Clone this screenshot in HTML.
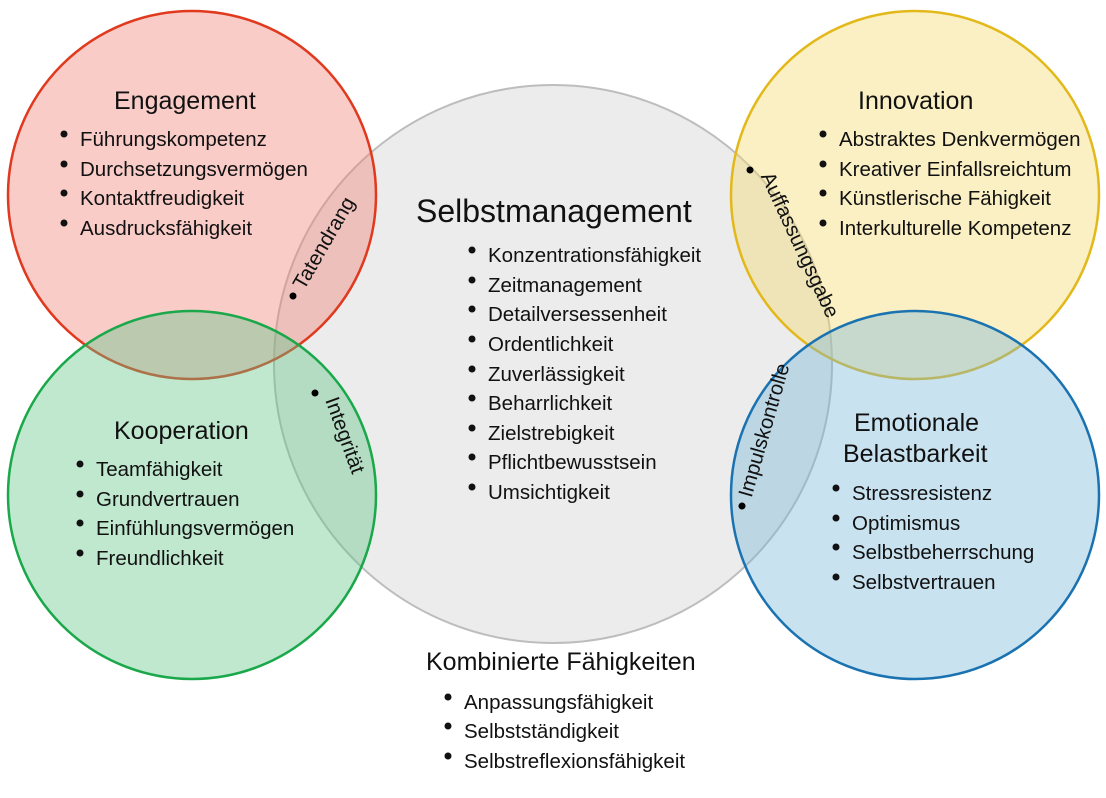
<!DOCTYPE html>
<html><head><meta charset="utf-8"><style>
html,body{margin:0;padding:0;background:#fff}
svg text{font-family:"Liberation Sans",Arial,sans-serif;fill:#111}
.t{font-size:25px}
.i{font-size:20.5px}
</style></head><body>
<svg width="1106" height="793" viewBox="0 0 1106 793" xmlns="http://www.w3.org/2000/svg">
<rect width="1106" height="793" fill="#fff"/>
<circle cx="553" cy="364" r="279" fill="rgb(207,207,207)" fill-opacity="0.4" stroke="#bdbdbd" stroke-width="2"/>
<circle cx="192" cy="195" r="184" fill="rgb(240,127,117)" fill-opacity="0.4" stroke="#e0391e" stroke-width="2.5"/>
<circle cx="192" cy="495" r="184" fill="rgb(95,197,135)" fill-opacity="0.4" stroke="#1aa84a" stroke-width="2.5"/>
<circle cx="915" cy="195" r="184" fill="rgb(245,217,105)" fill-opacity="0.4" stroke="#e2b81a" stroke-width="2.5"/>
<circle cx="915" cy="495" r="184" fill="rgb(120,182,217)" fill-opacity="0.4" stroke="#1a73b0" stroke-width="2.5"/>

<g class="t">
<text x="114" y="109">Engagement</text>
<text x="114" y="439">Kooperation</text>
<text x="858" y="109">Innovation</text>
<text x="854" y="431">Emotionale</text>
<text x="843" y="462">Belastbarkeit</text>
<text x="426" y="670">Kombinierte Fähigkeiten</text>
<text x="416" y="222" style="font-size:32px">Selbstmanagement</text>
</g>

<g class="i">
<text x="80" y="146">Führungskompetenz</text>
<text x="80" y="176">Durchsetzungsvermögen</text>
<text x="80" y="205">Kontaktfreudigkeit</text>
<text x="80" y="235">Ausdrucksfähigkeit</text>
<text x="96" y="476">Teamfähigkeit</text>
<text x="96" y="506">Grundvertrauen</text>
<text x="96" y="535">Einfühlungsvermögen</text>
<text x="96" y="565">Freundlichkeit</text>
<text x="839" y="146">Abstraktes Denkvermögen</text>
<text x="839" y="176">Kreativer Einfallsreichtum</text>
<text x="839" y="205">Künstlerische Fähigkeit</text>
<text x="839" y="235">Interkulturelle Kompetenz</text>
<text x="852" y="500">Stressresistenz</text>
<text x="852" y="530">Optimismus</text>
<text x="852" y="559">Selbstbeherrschung</text>
<text x="852" y="589">Selbstvertrauen</text>
<text x="488" y="262">Konzentrationsfähigkeit</text>
<text x="488" y="292">Zeitmanagement</text>
<text x="488" y="321">Detailversessenheit</text>
<text x="488" y="351">Ordentlichkeit</text>
<text x="488" y="381">Zuverlässigkeit</text>
<text x="488" y="410">Beharrlichkeit</text>
<text x="488" y="440">Zielstrebigkeit</text>
<text x="488" y="469">Pflichtbewusstsein</text>
<text x="488" y="499">Umsichtigkeit</text>
<text x="464" y="709">Anpassungsfähigkeit</text>
<text x="464" y="738">Selbstständigkeit</text>
<text x="464" y="768">Selbstreflexionsfähigkeit</text>
</g>

<g fill="#111">
<circle cx="64" cy="134" r="3.5"/><circle cx="64" cy="164" r="3.5"/><circle cx="64" cy="193" r="3.5"/><circle cx="64" cy="223" r="3.5"/>
<circle cx="80" cy="464" r="3.5"/><circle cx="80" cy="494" r="3.5"/><circle cx="80" cy="523" r="3.5"/><circle cx="80" cy="553" r="3.5"/>
<circle cx="823" cy="134" r="3.5"/><circle cx="823" cy="164" r="3.5"/><circle cx="823" cy="193" r="3.5"/><circle cx="823" cy="223" r="3.5"/>
<circle cx="836" cy="488" r="3.5"/><circle cx="836" cy="518" r="3.5"/><circle cx="836" cy="547" r="3.5"/><circle cx="836" cy="577" r="3.5"/>
<circle cx="472" cy="250" r="3.5"/><circle cx="472" cy="280" r="3.5"/><circle cx="472" cy="309" r="3.5"/><circle cx="472" cy="339" r="3.5"/><circle cx="472" cy="369" r="3.5"/><circle cx="472" cy="398" r="3.5"/><circle cx="472" cy="428" r="3.5"/><circle cx="472" cy="457" r="3.5"/><circle cx="472" cy="487" r="3.5"/>
<circle cx="448" cy="697" r="3.5"/><circle cx="448" cy="726" r="3.5"/><circle cx="448" cy="756" r="3.5"/>
</g>

<g class="i">
<g transform="translate(293,296) rotate(-60)"><circle cx="0" cy="0" r="3.5"/><text x="10" y="7">Tatendrang</text></g>
<g transform="translate(315,393) rotate(70)"><circle cx="0" cy="0" r="3.5"/><text x="10" y="-7">Integrität</text></g>
<g transform="translate(750,170) rotate(65)"><circle cx="0" cy="0" r="3.5"/><text x="10" y="-7">Auffassungsgabe</text></g>
<g transform="translate(742,506) rotate(-74)"><circle cx="0" cy="0" r="3.5"/><text x="10" y="7">Impulskontrolle</text></g>
</g>
</svg>
</body></html>
